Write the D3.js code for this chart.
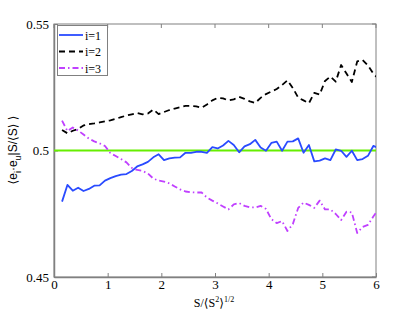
<!DOCTYPE html>
<html><head><meta charset="utf-8">
<script src="https://d3js.org/d3.v7.min.js"></script>
<style>body{margin:0;background:#fff}svg{display:block}
svg text.serif, svg text.serif tspan{font-family:"Liberation Serif","DejaVu Serif",serif !important;}
svg text.sans, svg text.sans tspan{font-family:"Liberation Sans","DejaVu Sans",sans-serif !important;}
</style>
</head><body>
<script>
const xs = [0.15,0.25,0.35,0.45,0.55,0.65,0.75,0.85,0.95,1.05,1.15,1.25,1.35,1.45,1.55,1.65,1.75,1.85,1.95,2.05,2.15,2.25,2.35,2.45,2.55,2.65,2.75,2.85,2.95,3.05,3.15,3.25,3.35,3.45,3.55,3.65,3.75,3.85,3.95,4.05,4.15,4.25,4.35,4.45,4.55,4.65,4.75,4.85,4.95,5.05,5.15,5.25,5.35,5.45,5.55,5.65,5.75,5.85,5.95,6.05];
const s1 = [0.4798,0.4864,0.4841,0.4853,0.4840,0.4848,0.4861,0.4862,0.4881,0.4891,0.4899,0.4905,0.4907,0.4919,0.4937,0.4945,0.4955,0.4973,0.4985,0.4962,0.4969,0.4972,0.4973,0.4991,0.4991,0.4995,0.4995,0.4991,0.5013,0.5008,0.5020,0.5038,0.5022,0.4993,0.5016,0.5025,0.5042,0.5012,0.4999,0.5030,0.5035,0.4999,0.5035,0.5036,0.5048,0.4991,0.5022,0.4957,0.4960,0.4969,0.4962,0.5004,0.4999,0.4975,0.4999,0.4962,0.4966,0.4979,0.5018,0.5009];
const s2 = [0.5081,0.5068,0.5078,0.5085,0.5099,0.5104,0.5107,0.5111,0.5115,0.5119,0.5125,0.5132,0.5138,0.5143,0.5148,0.5143,0.5146,0.5162,0.5144,0.5152,0.5160,0.5166,0.5171,0.5176,0.5176,0.5174,0.5169,0.5182,0.5198,0.5208,0.5206,0.5198,0.5202,0.5212,0.5204,0.5194,0.5188,0.5208,0.5223,0.5233,0.5243,0.5259,0.5277,0.5247,0.5209,0.5198,0.5187,0.5228,0.5221,0.5275,0.5292,0.5272,0.5338,0.5304,0.5271,0.5352,0.5358,0.5336,0.5304,0.5283];
const s3 = [0.5118,0.5077,0.5091,0.5079,0.5063,0.5047,0.5036,0.5028,0.5018,0.4990,0.4978,0.4966,0.4953,0.4931,0.4923,0.4919,0.4909,0.4889,0.4881,0.4877,0.4870,0.4858,0.4846,0.4838,0.4835,0.4834,0.4834,0.4814,0.4802,0.4791,0.4779,0.4767,0.4787,0.4792,0.4781,0.4775,0.4775,0.4781,0.4769,0.4729,0.4713,0.4721,0.4682,0.4709,0.4773,0.4794,0.4785,0.4773,0.4802,0.4767,0.4767,0.4749,0.4725,0.4758,0.4755,0.4674,0.4698,0.4706,0.4739,0.4769];
const refLine = [0.5, 0.5];
const refX = [0, 6];
const xTicks = [0,1,2,3,4,5,6];
const yTicks = [0.45,0.5,0.55];
const legendLabels = ["i=1","i=2","i=3"];

const W = 415, H = 312;
const L = 54, R = 376, T = 24, B = 277;
const svg = d3.select("body").append("svg").attr("width", W).attr("height", H);

const x = d3.scaleLinear().domain([0,6]).range([L,R]);
const y = d3.scaleLinear().domain([0.45,0.55]).range([B,T]);

svg.append("defs").append("clipPath").attr("id","clip")
  .append("rect").attr("x",L).attr("y",T).attr("width",R-L).attr("height",B-T);

const axisCol = "#808080";

svg.append("rect").attr("x",L).attr("y",T).attr("width",R-L).attr("height",B-T)
  .attr("fill","none").attr("stroke",axisCol).attr("stroke-width",1);

const xAxis = d3.axisBottom(x).tickValues(xTicks).tickSizeInner(-4).tickSizeOuter(0).tickPadding(4)
  .tickFormat(d3.format("d"));
const gx = svg.append("g").attr("transform",`translate(0,${B})`).call(xAxis);
const yAxis = d3.axisLeft(y).tickValues(yTicks).tickSizeInner(-4).tickSizeOuter(0).tickPadding(5)
  .tickFormat(d => d===0.5 ? "0.5" : d3.format(".2f")(d));
const gy = svg.append("g").attr("transform",`translate(${L},0)`).call(yAxis);
[gx,gy].forEach(g=>{
  g.attr("font-family",null).attr("font-size",null);
  g.selectAll("path").attr("stroke",axisCol).attr("stroke-width",1.5);
  g.selectAll("line").attr("stroke",axisCol);
  g.selectAll("text").attr("class","serif").style("font-size","13px").attr("fill","#000");
});
gx.selectAll("text").attr("dy","0.6em");

svg.append("g").selectAll("line").data(xTicks).join("line")
  .attr("x1",d=>x(d)).attr("x2",d=>x(d)).attr("y1",T).attr("y2",T+4).attr("stroke",axisCol);
svg.append("g").selectAll("line").data(yTicks).join("line")
  .attr("x1",R).attr("x2",R-4).attr("y1",d=>y(d)).attr("y2",d=>y(d)).attr("stroke",axisCol);

const plot = svg.append("g").attr("clip-path","url(#clip)");
const line = d3.line().x((d,i)=>x(xs[i])).y(d=>y(d));

const series = [
  {v:s1, color:"#2a4bff", dash:null, w:1.8},
  {v:s2, color:"#000000", dash:"6,4", w:1.8},
  {v:s3, color:"#c040ff", dash:"6,3,1.5,3", w:1.8}
];

plot.append("path").datum(refLine)
  .attr("d", d3.line().x((d,i)=>x(refX[i])).y(d=>y(d)))
  .attr("stroke","#66ee00").attr("stroke-width",2).attr("fill","none");

series.forEach(s=>{
  plot.append("path").datum(s.v).attr("d",line)
    .attr("fill","none").attr("stroke",s.color).attr("stroke-width",s.w)
    .attr("stroke-dasharray",s.dash).attr("stroke-linejoin","round");
});

const lg = svg.append("g");
lg.append("rect").attr("x",57.5).attr("y",25.5).attr("width",50).attr("height",50)
  .attr("fill","#fff").attr("stroke",axisCol).attr("stroke-width",1);
legendLabels.forEach((lab,i)=>{
  const yy = 35 + i*16.5;
  lg.append("line").attr("x1",59).attr("x2",83).attr("y1",yy).attr("y2",yy)
    .attr("stroke",series[i].color).attr("stroke-width",1.8).attr("stroke-dasharray",series[i].dash);
  lg.append("text").attr("x",85).attr("y",yy+4.5).attr("class","serif").style("font-size","12px")
    .text(lab);
});

const xl = svg.append("text").attr("x",214).attr("y",307).attr("text-anchor","middle")
  .attr("class","serif").style("font-size","12px");
xl.append("tspan").text("S/\u27E8S");
xl.append("tspan").style("font-size","8px").attr("dy",-5).text("2");
xl.append("tspan").attr("dy",5).text("\u27E9");
xl.append("tspan").style("font-size","8px").attr("dy",-5).text("1/2");

const yl = svg.append("text").attr("transform","translate(17,150) rotate(-90)")
  .attr("text-anchor","middle").attr("class","sans").style("font-size","12px");
yl.append("tspan").text("\u27E8e");
yl.append("tspan").style("font-size","9px").attr("dy",4).text("i");
yl.append("tspan").attr("dy",-4).text("\u00B7e");
yl.append("tspan").style("font-size","9px").attr("dy",4).text("u");
yl.append("tspan").attr("dy",-4).text("|S/\u27E8S\u27E9 \u27E9");
</script>
</body></html>
